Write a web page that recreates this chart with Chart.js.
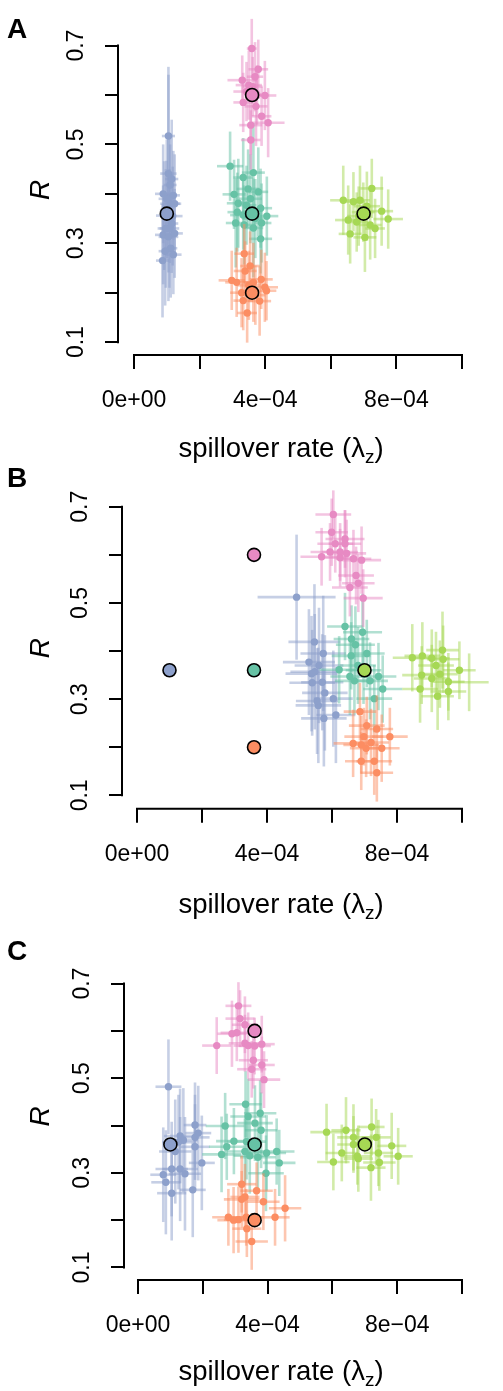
<!DOCTYPE html>
<html>
<head>
<meta charset="utf-8">
<script src="https://cdn.jsdelivr.net/npm/chart.js@4"></script>
<style>
  html, body { margin: 0; padding: 0; background: #fff; }
  #wrap { position: relative; width: 503px; height: 1391px; }
  canvas { position: absolute; left: 0; }
</style>
</head>
<body>
<div id="wrap">
  <canvas id="panelA" width="503" height="463" style="top:0px"></canvas>
  <canvas id="panelB" width="503" height="465" style="top:463px"></canvas>
  <canvas id="panelC" width="503" height="463" style="top:928px"></canvas>
</div>
<script>
// groups, in drawing order (later ones on top)
var groupNames = ['blue', 'green', 'pink', 'orange', 'lime'];
var groupRGB = ['141,160,203', '102,194,165', '231,138,195', '252,141,98', '166,216,84'];

// true parameter values (same in every panel)
var trueX = [1e-4, 3.6e-4, 3.6e-4, 3.6e-4, 7e-4];
var trueY = [0.36, 0.36, 0.6, 0.2, 0.36];

var xTicks = [0, 2e-4, 4e-4, 6e-4, 8e-4, 1e-3];
var xTickLabels = ['0e+00', '', '4e\u221204', '', '8e\u221204', ''];
var yTicks = [0.1, 0.2, 0.3, 0.4, 0.5, 0.6, 0.7];
var yTickLabels = ['0.1', '', '0.3', '', '0.5', '', '0.7'];

// estimates: [x, y, x half-width, y half-width]
// panel A
var aBlue = [
  [1.05e-4, 0.517, 0.2e-4, 0.14], [1.15e-4, 0.43, 0.2e-4, 0.12], [1.05e-4, 0.441, 0.25e-4, 0.2],
  [1.1e-4, 0.418, 0.2e-4, 0.1], [0.89e-4, 0.40, 0.25e-4, 0.1], [1.2e-4, 0.397, 0.2e-4, 0.09],
  [1.1e-4, 0.38, 0.3e-4, 0.12], [1.24e-4, 0.38, 0.2e-4, 0.1], [0.99e-4, 0.367, 0.2e-4, 0.1],
  [0.92e-4, 0.356, 0.25e-4, 0.11], [1.15e-4, 0.34, 0.2e-4, 0.1], [1.08e-4, 0.33, 0.3e-4, 0.12],
  [0.89e-4, 0.317, 0.25e-4, 0.1], [1.24e-4, 0.32, 0.25e-4, 0.09], [1.05e-4, 0.313, 0.3e-4, 0.13],
  [1.12e-4, 0.29, 0.2e-4, 0.1], [0.95e-4, 0.284, 0.2e-4, 0.11], [1.2e-4, 0.277, 0.25e-4, 0.08],
  [0.87e-4, 0.265, 0.2e-4, 0.115], [1.0e-4, 0.39, 0.25e-4, 0.12], [1.18e-4, 0.355, 0.3e-4, 0.1],
  [0.97e-4, 0.33, 0.25e-4, 0.12]
];
var aGreen = [
  [2.93e-4, 0.456, 0.4e-4, 0.07], [3.64e-4, 0.443, 0.35e-4, 0.1], [3.33e-4, 0.433, 0.3e-4, 0.08],
  [3.48e-4, 0.41, 0.35e-4, 0.08], [3.79e-4, 0.404, 0.3e-4, 0.09], [3.05e-4, 0.399, 0.35e-4, 0.07],
  [3.43e-4, 0.377, 0.3e-4, 0.08], [3.18e-4, 0.381, 0.35e-4, 0.09], [3.86e-4, 0.371, 0.35e-4, 0.08],
  [3.15e-4, 0.363, 0.3e-4, 0.08], [3.33e-4, 0.357, 0.4e-4, 0.07], [4.05e-4, 0.355, 0.35e-4, 0.08],
  [3.10e-4, 0.341, 0.3e-4, 0.09], [3.89e-4, 0.341, 0.3e-4, 0.08], [3.36e-4, 0.337, 0.35e-4, 0.08],
  [3.64e-4, 0.331, 0.3e-4, 0.1], [3.86e-4, 0.309, 0.35e-4, 0.07], [3.55e-4, 0.39, 0.35e-4, 0.09],
  [3.7e-4, 0.35, 0.4e-4, 0.08]
];
var aPink = [
  [3.59e-4, 0.694, 0.15e-4, 0.06], [3.79e-4, 0.652, 0.3e-4, 0.06], [3.69e-4, 0.637, 0.25e-4, 0.07],
  [3.3e-4, 0.63, 0.45e-4, 0.05], [3.62e-4, 0.617, 0.3e-4, 0.06], [3.43e-4, 0.607, 0.4e-4, 0.06],
  [3.99e-4, 0.599, 0.35e-4, 0.07], [3.33e-4, 0.585, 0.3e-4, 0.06], [3.72e-4, 0.577, 0.35e-4, 0.08],
  [3.89e-4, 0.557, 0.3e-4, 0.06], [4.09e-4, 0.544, 0.5e-4, 0.07], [3.56e-4, 0.539, 0.35e-4, 0.06],
  [3.56e-4, 0.509, 0.3e-4, 0.06], [3.5e-4, 0.62, 0.4e-4, 0.07], [3.75e-4, 0.6, 0.35e-4, 0.06]
];
var aOrange = [
  [3.36e-4, 0.279, 0.3e-4, 0.06], [3.54e-4, 0.254, 0.3e-4, 0.07], [3.39e-4, 0.244, 0.35e-4, 0.06],
  [2.98e-4, 0.225, 0.4e-4, 0.06], [3.13e-4, 0.221, 0.35e-4, 0.07], [3.64e-4, 0.221, 0.3e-4, 0.08],
  [3.88e-4, 0.227, 0.35e-4, 0.06], [3.99e-4, 0.211, 0.4e-4, 0.07], [4.04e-4, 0.204, 0.3e-4, 0.06],
  [3.28e-4, 0.2, 0.35e-4, 0.07], [3.33e-4, 0.184, 0.3e-4, 0.06], [3.83e-4, 0.183, 0.35e-4, 0.07],
  [3.45e-4, 0.159, 0.3e-4, 0.06], [3.5e-4, 0.215, 0.35e-4, 0.07], [3.7e-4, 0.195, 0.3e-4, 0.06]
];
var aLime = [
  [7.25e-4, 0.411, 0.35e-4, 0.06], [6.38e-4, 0.387, 0.4e-4, 0.07], [6.69e-4, 0.384, 0.35e-4, 0.06],
  [6.89e-4, 0.387, 0.3e-4, 0.07], [6.99e-4, 0.363, 0.35e-4, 0.06], [7.55e-4, 0.365, 0.35e-4, 0.07],
  [7.75e-4, 0.349, 0.45e-4, 0.06], [6.53e-4, 0.347, 0.4e-4, 0.07], [6.79e-4, 0.343, 0.35e-4, 0.06],
  [7.2e-4, 0.337, 0.35e-4, 0.07], [7.35e-4, 0.33, 0.3e-4, 0.06], [6.59e-4, 0.319, 0.35e-4, 0.06],
  [7.04e-4, 0.312, 0.35e-4, 0.07], [7.1e-4, 0.375, 0.4e-4, 0.07], [6.85e-4, 0.355, 0.35e-4, 0.06]
];

// panel B
var bBlue = [
  [4.91e-4, 0.512, 1.2e-4, 0.13], [5.46e-4, 0.419, 0.8e-4, 0.12], [5.73e-4, 0.395, 0.7e-4, 0.12],
  [5.29e-4, 0.377, 0.8e-4, 0.11], [5.47e-4, 0.357, 0.75e-4, 0.12], [5.39e-4, 0.334, 0.7e-4, 0.11],
  [5.7e-4, 0.335, 0.65e-4, 0.1], [5.78e-4, 0.313, 0.7e-4, 0.12], [6.04e-4, 0.301, 0.6e-4, 0.1],
  [5.58e-4, 0.287, 0.7e-4, 0.12], [5.54e-4, 0.296, 0.65e-4, 0.11], [5.75e-4, 0.26, 0.7e-4, 0.1],
  [6.12e-4, 0.267, 0.6e-4, 0.1], [5.37e-4, 0.353, 0.8e-4, 0.12], [5.6e-4, 0.37, 0.75e-4, 0.12]
];
var bGreen = [
  [6.4e-4, 0.451, 0.55e-4, 0.07], [6.94e-4, 0.439, 0.6e-4, 0.08], [6.6e-4, 0.425, 0.55e-4, 0.07],
  [6.72e-4, 0.413, 0.6e-4, 0.08], [7.07e-4, 0.395, 0.55e-4, 0.07], [6.59e-4, 0.39, 0.6e-4, 0.07],
  [6.8e-4, 0.37, 0.55e-4, 0.08], [6.22e-4, 0.361, 0.6e-4, 0.07], [6.97e-4, 0.36, 0.55e-4, 0.07],
  [6.55e-4, 0.347, 0.6e-4, 0.08], [7.43e-4, 0.347, 0.55e-4, 0.07], [6.69e-4, 0.338, 0.6e-4, 0.07],
  [7.17e-4, 0.338, 0.55e-4, 0.08], [7.56e-4, 0.321, 0.6e-4, 0.07], [7.3e-4, 0.301, 0.55e-4, 0.07]
];
var bPink = [
  [6.04e-4, 0.684, 0.55e-4, 0.05], [5.99e-4, 0.647, 0.5e-4, 0.07], [6.40e-4, 0.633, 0.6e-4, 0.06],
  [6.1e-4, 0.623, 0.55e-4, 0.06], [6.4e-4, 0.623, 0.5e-4, 0.07], [5.94e-4, 0.606, 0.6e-4, 0.06],
  [6.25e-4, 0.606, 0.55e-4, 0.06], [6.45e-4, 0.603, 0.6e-4, 0.07], [5.68e-4, 0.596, 0.65e-4, 0.06],
  [6.66e-4, 0.592, 0.55e-4, 0.06], [6.91e-4, 0.589, 0.6e-4, 0.07], [6.25e-4, 0.594, 0.5e-4, 0.06],
  [6.74e-4, 0.557, 0.55e-4, 0.06], [6.81e-4, 0.541, 0.5e-4, 0.06], [6.55e-4, 0.532, 0.55e-4, 0.06],
  [6.96e-4, 0.51, 0.6e-4, 0.06]
];
var bOrange = [
  [6.86e-4, 0.274, 0.5e-4, 0.06], [7.07e-4, 0.245, 0.55e-4, 0.06], [7.38e-4, 0.238, 0.5e-4, 0.07],
  [6.98e-4, 0.222, 0.6e-4, 0.06], [7.78e-4, 0.222, 0.55e-4, 0.06], [6.65e-4, 0.208, 0.6e-4, 0.07],
  [6.9e-4, 0.205, 0.55e-4, 0.06], [7.05e-4, 0.198, 0.5e-4, 0.06], [7.53e-4, 0.198, 0.55e-4, 0.07],
  [6.9e-4, 0.171, 0.5e-4, 0.06], [7.3e-4, 0.171, 0.55e-4, 0.07], [7.38e-4, 0.147, 0.5e-4, 0.06],
  [7.2e-4, 0.21, 0.55e-4, 0.07]
];
var bLime = [
  [8.47e-4, 0.386, 0.6e-4, 0.07], [8.78e-4, 0.39, 0.55e-4, 0.07], [9.4e-4, 0.402, 0.5e-4, 0.08],
  [9.07e-4, 0.385, 0.55e-4, 0.06], [9.42e-4, 0.383, 0.5e-4, 0.07], [8.76e-4, 0.35, 0.6e-4, 0.06],
  [9.32e-4, 0.352, 0.55e-4, 0.07], [9.92e-4, 0.36, 0.5e-4, 0.06], [9.07e-4, 0.343, 0.55e-4, 0.07],
  [9.58e-4, 0.336, 0.5e-4, 0.06], [1.022e-3, 0.335, 0.6e-4, 0.06], [8.71e-4, 0.321, 0.55e-4, 0.07],
  [9.25e-4, 0.306, 0.5e-4, 0.07], [9.58e-4, 0.316, 0.55e-4, 0.06], [9.2e-4, 0.37, 0.55e-4, 0.07]
];

// panel C
var cBlue = [
  [0.94e-4, 0.482, 0.4e-4, 0.1], [1.76e-4, 0.401, 0.35e-4, 0.09], [1.86e-4, 0.384, 0.4e-4, 0.1],
  [1.76e-4, 0.375, 0.45e-4, 0.09], [1.3e-4, 0.378, 0.5e-4, 0.1], [1.4e-4, 0.369, 0.45e-4, 0.11],
  [1.25e-4, 0.365, 0.5e-4, 0.1], [1.76e-4, 0.355, 0.45e-4, 0.09], [1.97e-4, 0.321, 0.4e-4, 0.1],
  [1.04e-4, 0.308, 0.5e-4, 0.1], [1.3e-4, 0.308, 0.55e-4, 0.11], [1.45e-4, 0.298, 0.5e-4, 0.12],
  [0.78e-4, 0.296, 0.4e-4, 0.1], [0.86e-4, 0.28, 0.45e-4, 0.11], [1.69e-4, 0.264, 0.4e-4, 0.1],
  [1.04e-4, 0.257, 0.45e-4, 0.1], [1.15e-4, 0.345, 0.5e-4, 0.11]
];
var cGreen = [
  [3.32e-4, 0.445, 0.5e-4, 0.07], [3.4e-4, 0.419, 0.55e-4, 0.08], [3.77e-4, 0.426, 0.5e-4, 0.07],
  [3.61e-4, 0.405, 0.55e-4, 0.08], [2.69e-4, 0.399, 0.6e-4, 0.07], [3.8e-4, 0.39, 0.5e-4, 0.08],
  [2.96e-4, 0.367, 0.55e-4, 0.07], [3.35e-4, 0.366, 0.6e-4, 0.08], [2.74e-4, 0.355, 0.55e-4, 0.07],
  [2.58e-4, 0.339, 0.6e-4, 0.08], [3.3e-4, 0.345, 0.55e-4, 0.07], [3.45e-4, 0.336, 0.5e-4, 0.08],
  [3.7e-4, 0.333, 0.55e-4, 0.07], [3.97e-4, 0.342, 0.6e-4, 0.08], [4.28e-4, 0.345, 0.55e-4, 0.07],
  [4.36e-4, 0.321, 0.5e-4, 0.07], [3.95e-4, 0.299, 0.55e-4, 0.08]
];
var cPink = [
  [3.1e-4, 0.653, 0.4e-4, 0.05], [3.15e-4, 0.626, 0.45e-4, 0.06], [3.3e-4, 0.613, 0.4e-4, 0.06],
  [3.05e-4, 0.596, 0.5e-4, 0.06], [2.9e-4, 0.594, 0.45e-4, 0.07], [2.43e-4, 0.569, 0.45e-4, 0.06],
  [3.3e-4, 0.574, 0.5e-4, 0.06], [3.4e-4, 0.569, 0.45e-4, 0.07], [3.82e-4, 0.572, 0.4e-4, 0.06],
  [3.6e-4, 0.568, 0.5e-4, 0.06], [3.56e-4, 0.538, 0.45e-4, 0.06], [3.82e-4, 0.528, 0.4e-4, 0.06],
  [3.51e-4, 0.519, 0.45e-4, 0.06], [3.89e-4, 0.497, 0.5e-4, 0.06]
];
var cOrange = [
  [3.2e-4, 0.276, 0.45e-4, 0.06], [3.66e-4, 0.262, 0.5e-4, 0.06], [3.3e-4, 0.249, 0.45e-4, 0.07],
  [3.87e-4, 0.239, 0.5e-4, 0.06], [3.2e-4, 0.244, 0.55e-4, 0.06], [4.54e-4, 0.225, 0.5e-4, 0.07],
  [2.79e-4, 0.206, 0.5e-4, 0.06], [3.1e-4, 0.201, 0.45e-4, 0.07], [3.34e-4, 0.206, 0.5e-4, 0.06],
  [4.23e-4, 0.206, 0.45e-4, 0.06], [2.95e-4, 0.2, 0.5e-4, 0.07], [3.36e-4, 0.182, 0.45e-4, 0.06],
  [3.51e-4, 0.155, 0.5e-4, 0.06]
];
var cLime = [
  [5.82e-4, 0.386, 0.5e-4, 0.06], [6.42e-4, 0.39, 0.45e-4, 0.07], [7.21e-4, 0.397, 0.4e-4, 0.06],
  [6.65e-4, 0.375, 0.5e-4, 0.07], [7.35e-4, 0.375, 0.45e-4, 0.06], [6.65e-4, 0.36, 0.5e-4, 0.06],
  [7.83e-4, 0.357, 0.45e-4, 0.07], [6.29e-4, 0.342, 0.5e-4, 0.06], [7.42e-4, 0.342, 0.45e-4, 0.07],
  [8.03e-4, 0.335, 0.45e-4, 0.06], [6.03e-4, 0.323, 0.5e-4, 0.06], [6.8e-4, 0.33, 0.45e-4, 0.07],
  [7.45e-4, 0.322, 0.5e-4, 0.06], [7.19e-4, 0.311, 0.45e-4, 0.07], [6.77e-4, 0.335, 0.45e-4, 0.06]
];

// layout of each panel (canvas pixels)
var panels = [
  { id: 'panelA', letter: 'A', groups: [aBlue, aGreen, aPink, aOrange, aLime],
    axisLeft: 119, top: 22, bottom: 354, xMin: -4.57e-5, yMin: 0.076, yMax: 0.74,
    letterY: 38, titleY: 457 },
  { id: 'panelB', letter: 'B', groups: [bBlue, bGreen, bPink, bOrange, bLime],
    axisLeft: 123, top: 17.3, bottom: 344.7, xMin: -4.31e-5, yMin: 0.0743, yMax: 0.7373,
    letterY: 24, titleY: 450 },
  { id: 'panelC', letter: 'C', groups: [cBlue, cGreen, cPink, cOrange, cLime],
    axisLeft: 125, top: 13, bottom: 351, xMin: -4.01e-5, yMin: 0.0756, yMax: 0.763,
    letterY: 32, titleY: 452 }
];

Chart.defaults.font.family = "'Liberation Sans', Arial, sans-serif";
Chart.defaults.color = '#000';

var errorBars = {
  id: 'errorBars',
  beforeDatasetDraw: function (chart, args) {
    var ds = chart.data.datasets[args.index];
    if (!ds.errorColor) return;
    var xs = chart.scales.x, ys = chart.scales.y, ctx = chart.ctx;
    ctx.save();
    ctx.strokeStyle = ds.errorColor;
    ctx.lineWidth = 2.6;
    ds.data.forEach(function (p) {
      var px = xs.getPixelForValue(p.x), py = ys.getPixelForValue(p.y);
      ctx.beginPath();
      ctx.moveTo(xs.getPixelForValue(p.x - p.xe), py);
      ctx.lineTo(xs.getPixelForValue(p.x + p.xe), py);
      ctx.stroke();
      ctx.beginPath();
      ctx.moveTo(px, ys.getPixelForValue(p.y - p.ye));
      ctx.lineTo(px, ys.getPixelForValue(p.y + p.ye));
      ctx.stroke();
    });
    ctx.restore();
  }
};

// R style axes: line only from first to last tick
var axisLines = {
  id: 'axisLines',
  afterDraw: function (chart) {
    var xs = chart.scales.x, ys = chart.scales.y, ctx = chart.ctx, a = chart.chartArea;
    ctx.save();
    ctx.strokeStyle = '#000';
    ctx.lineWidth = 2;
    ctx.lineCap = 'square';
    ctx.beginPath();
    ctx.moveTo(xs.getPixelForValue(xTicks[0]), a.bottom + 1);
    ctx.lineTo(xs.getPixelForValue(xTicks[xTicks.length - 1]), a.bottom + 1);
    ctx.moveTo(a.left - 1, ys.getPixelForValue(yTicks[0]));
    ctx.lineTo(a.left - 1, ys.getPixelForValue(yTicks[yTicks.length - 1]));
    ctx.stroke();
    ctx.restore();
  }
};

var panelText = {
  id: 'panelText',
  afterDraw: function (chart, args, opts) {
    var ctx = chart.ctx;
    ctx.save();
    ctx.fillStyle = '#000';
    ctx.textBaseline = 'alphabetic';
    ctx.textAlign = 'left';
    ctx.font = "bold 28px 'Liberation Sans', Arial, sans-serif";
    ctx.fillText(opts.letter, 7, opts.letterY);

    var big = "27.5px 'Liberation Sans', Arial, sans-serif";
    var small = "19px 'Liberation Sans', Arial, sans-serif";
    var p1 = 'spillover rate (\u03bb', p2 = 'z', p3 = ')';
    ctx.font = big;
    var w1 = ctx.measureText(p1).width, w3 = ctx.measureText(p3).width;
    ctx.font = small;
    var w2 = ctx.measureText(p2).width;
    var x0 = 281 - (w1 + w2 + w3) / 2;
    ctx.font = big;
    ctx.fillText(p1, x0, opts.titleY);
    ctx.fillText(p3, x0 + w1 + w2, opts.titleY);
    ctx.font = small;
    ctx.fillText(p2, x0 + w1, opts.titleY + 6);
    ctx.restore();
  }
};

panels.forEach(function (pn) {
  var canvas = document.getElementById(pn.id);
  var datasets = [];
  datasets.push({
    data: trueX.map(function (x, i) { return { x: x, y: trueY[i] }; }),
    pointRadius: 6.5,
    pointBackgroundColor: groupRGB.map(function (c) { return 'rgb(' + c + ')'; }),
    pointBorderColor: '#000',
    pointBorderWidth: 1.6,
    order: 0,
    clip: false
  });
  pn.groups.forEach(function (rows, gi) {
    datasets.push({
      label: groupNames[gi],
      data: rows.map(function (r) { return { x: r[0], y: r[1], xe: r[2], ye: r[3] }; }),
      errorColor: 'rgba(' + groupRGB[gi] + ',0.5)',
      pointRadius: 3.7,
      pointBackgroundColor: 'rgb(' + groupRGB[gi] + ')',
      pointBorderWidth: 0,
      order: groupNames.length - gi,
      clip: false
    });
  });

  new Chart(canvas, {
    type: 'scatter',
    data: { datasets: datasets },
    options: {
      responsive: false,
      animation: false,
      devicePixelRatio: 1,
      layout: { padding: { left: 0, right: 503 - 462, top: pn.top, bottom: 0 } },
      plugins: {
        legend: { display: false },
        tooltip: { enabled: false },
        panelText: { letter: pn.letter, letterY: pn.letterY, titleY: pn.titleY }
      },
      scales: {
        x: {
          type: 'linear',
          min: pn.xMin,
          max: 1e-3,
          afterBuildTicks: function (s) { s.ticks = xTicks.map(function (v) { return { value: v }; }); },
          afterFit: function (s) { s.height = canvas.height - pn.bottom; },
          ticks: {
            autoSkip: false, maxRotation: 0, padding: 18, color: '#000',
            font: { size: 23 },
            callback: function (v, i) { return xTickLabels[i]; }
          },
          grid: { drawOnChartArea: false, drawTicks: true, tickLength: 15, color: '#000', lineWidth: 2 },
          border: { display: false }
        },
        y: {
          type: 'linear',
          min: pn.yMin,
          max: pn.yMax,
          afterBuildTicks: function (s) { s.ticks = yTicks.map(function (v) { return { value: v }; }); },
          afterFit: function (s) { s.width = pn.axisLeft; },
          ticks: {
            autoSkip: false, minRotation: 90, maxRotation: 90, crossAlign: 'center',
            padding: 12, color: '#000', font: { size: 23 },
            callback: function (v, i) { return yTickLabels[i]; }
          },
          grid: { drawOnChartArea: false, drawTicks: true, tickLength: 14, color: '#000', lineWidth: 2 },
          border: { display: false },
          title: {
            display: true, text: 'R', color: '#000',
            font: { size: 28, style: 'italic' },
            padding: { top: 24, bottom: 0 }
          }
        }
      }
    },
    plugins: [errorBars, axisLines, panelText]
  });
});
</script>
</body>
</html>
